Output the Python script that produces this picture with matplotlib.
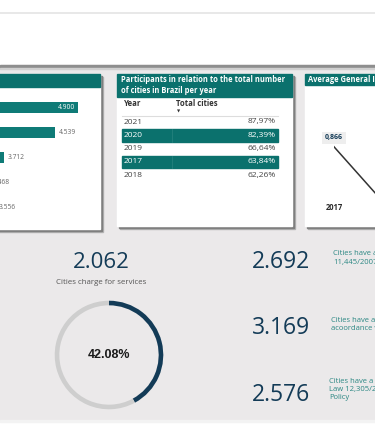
import numpy as np
import matplotlib
matplotlib.use("Agg")
import matplotlib.pyplot as plt
from matplotlib.patches import Rectangle

plt.rcParams['font.family'] = ['Open Sans', 'DejaVu Sans']

# data
bar_values = [4900, 4539, 3712, 3468, 3556]

table_years = ['2021', '2020', '2019', '2017', '2018']
table_share = [87.97, 82.39, 66.64, 63.84, 62.26]
table_highlight = [1, 3]

line_years = [2017, 2018, 2019, 2020, 2021]
line_values = [0.866, 0.58, 0.62, 0.64, 0.60]

kpi_main = 2062
kpi_main_label = 'Cities charge for services'
kpi_pct = 42.08

side_values = [2692, 3169, 2576]
side_labels = ['Cities have a sanitation plan under Law\n11,445/2007',
               'Cities have a waste plan in\nacoordance with the law',
               'Cities have a plan under the\nLaw 12,305/2010 Solid Waste\nPolicy']

TEAL = '#0b716d'
BAR = '#0f7b77'
NAVY = '#133b57'
BG = '#ebe9ea'

W, H = 375, 437
fig = plt.figure(figsize=(W / 100, H / 100), dpi=100)
fig.patch.set_facecolor('white')


def px_axes(x0, y0, x1, y1, **kw):
    return fig.add_axes([x0 / W, 1 - y1 / H, (x1 - x0) / W, (y1 - y0) / H], **kw)


def fmt(v):
    return f'{v:,}'.replace(',', '.')


bg = px_axes(0, 0, W, H)
bg.set_xlim(0, W)
bg.set_ylim(H, 0)
bg.axis('off')

# page background and top panel
bg.add_patch(Rectangle((0, 65), W, 355, color=BG, zorder=0))
bg.add_patch(Rectangle((0, 420), W, 2, color='#f3f3f3', zorder=0))
bg.plot([0, W], [12.5, 12.5], color='#e4e4e4', lw=1.2, zorder=1)
bg.add_patch(Rectangle((0, 64.5), W, 3, color='#8e8e8e', zorder=1))
bg.add_patch(Rectangle((0, 67.5), W, 1.2, color='#cfcfcf', zorder=1))


def card(x0, y0, x1, y1, head):
    bg.add_patch(Rectangle((x0 + 3, y0 + 3), x1 - x0, y1 - y0, color='#b5b5b5', zorder=1))
    bg.add_patch(Rectangle((x0 + 1.5, y0 + 1.5), x1 - x0, y1 - y0, color='#7f7f7f', zorder=1))
    bg.add_patch(Rectangle((x0, y0), x1 - x0, y1 - y0, color='white', zorder=2))
    bg.add_patch(Rectangle((x0, y0), x1 - x0, head, color=TEAL, zorder=3))


card(-10, 74, 100, 229, 13)
card(117, 74, 292, 226, 23)
card(305, 74, 390, 226, 11)

# left card: bars
ax = px_axes(-226, 95, 84, 220)
ax.set_facecolor('none')
ypos = np.arange(len(bar_values))
ax.barh(ypos, bar_values, height=0.44, color=BAR)
for y, v in zip(ypos, bar_values):
    if v == max(bar_values):
        ax.text(v - 45, y, fmt(v), color='white', fontsize=4.8, ha='right', va='center')
    else:
        ax.text(v + 60, y, fmt(v), color='#666666', fontsize=4.8, ha='left', va='center')
ax.set_xlim(0, 5000)
ax.set_ylim(len(bar_values) - 0.5, -0.5)
ax.axis('off')

# middle card: table
bg.text(121, 79.5, 'Participants in relation to the total number',
        color='white', fontsize=5.45, fontweight='bold', va='center', zorder=4)
bg.text(121, 90.5, 'of cities in Brazil per year',
        color='white', fontsize=5.45, fontweight='bold', va='center', zorder=4)
bg.text(124, 104, 'Year', color='#333333', fontsize=5.6, fontweight='bold', va='center', zorder=4)
bg.text(176, 104, 'Total cities', color='#333333', fontsize=5.6, fontweight='bold', va='center', zorder=4)
bg.text(178.5, 111.5, '▼', color='#333333', fontsize=3, ha='center', va='center', zorder=4)
bg.plot([122, 278], [115.5, 115.5], color='#dddddd', lw=0.8, zorder=4)
row_h = 13.3
for i, (yr, sh) in enumerate(zip(table_years, table_share)):
    yc = 122 + i * row_h
    tc = '#444444'
    if i in table_highlight:
        bg.add_patch(Rectangle((122, yc - 6.2), 156, 12.4, color=TEAL, zorder=3))
        bg.plot([172, 172], [yc - 6.2, yc + 6.2], color='#2a8480', lw=0.5, zorder=4)
        tc = 'white'
    bg.text(124, yc, yr, color=tc, fontsize=6, va='center', zorder=5)
    bg.text(276, yc, f'{sh:.2f}%'.replace('.', ','), color=tc, fontsize=6,
            ha='right', va='center', zorder=5)

# right card: line
bg.text(308, 79.5, 'Average General Index', color='white', fontsize=5.45,
        fontweight='bold', va='center', zorder=4)
lx = px_axes(334, 120, 334 + 55 * 4, 215)
lx.set_facecolor('none')
lx.plot(line_years, line_values, color='#333333', lw=1.1)
lx.text(line_years[0], line_values[0] + 0.025, f'{line_values[0]:.3f}'.replace('.', ','),
        color=NAVY, fontsize=5, fontweight='bold', ha='center', va='bottom',
        bbox=dict(boxstyle='square,pad=0.4', fc='#eeeeee', ec='none'))
lx.set_xlim(2017, 2021)
lx.set_ylim(0.55, 0.99)
lx.set_xticks(line_years)
lx.set_xticklabels([str(y) for y in line_years], fontsize=5.5, fontweight='bold', color='#2b2b2b')
lx.tick_params(length=0, pad=-9)
lx.set_yticks([])
for s in lx.spines.values():
    s.set_visible(False)

# bottom left KPI and donut
bg.text(101, 262, fmt(kpi_main), color=NAVY, fontsize=16, ha='center', va='center', zorder=4)
bg.text(101, 283, kpi_main_label, color='#555555', fontsize=5.7, ha='center', va='center', zorder=4)
dx = px_axes(109 - 57, 355 - 57, 109 + 57, 355 + 57)
dx.pie([kpi_pct, 100 - kpi_pct], colors=[NAVY, '#cecece'], startangle=90, counterclock=False,
       radius=1, wedgeprops=dict(width=0.085, edgecolor='none'))
dx.set_xlim(-1.05, 1.05)
dx.set_ylim(-1.05, 1.05)
dx.text(0, 0, f'{kpi_pct:.2f}%', fontsize=9, fontweight='bold', color='#1a1a1a',
        ha='center', va='center', family=['Liberation Sans', 'DejaVu Sans'])

# bottom right KPIs
for i, (v, lab) in enumerate(zip(side_values, side_labels)):
    yc = 262 + i * 66.5
    bg.text(281, yc, fmt(v), color=NAVY, fontsize=16.5, ha='center', va='center', zorder=4)
    nlines = lab.count('\n') + 1
    bg.text(329 + (2 - i) * 2, yc - 4 - (nlines - 2) * 1.5, lab, color='#2b8783', fontsize=5.5,
            ha='left', va='center', linespacing=1.25, zorder=4)

fig.savefig('out.png', dpi=100, facecolor='white')
